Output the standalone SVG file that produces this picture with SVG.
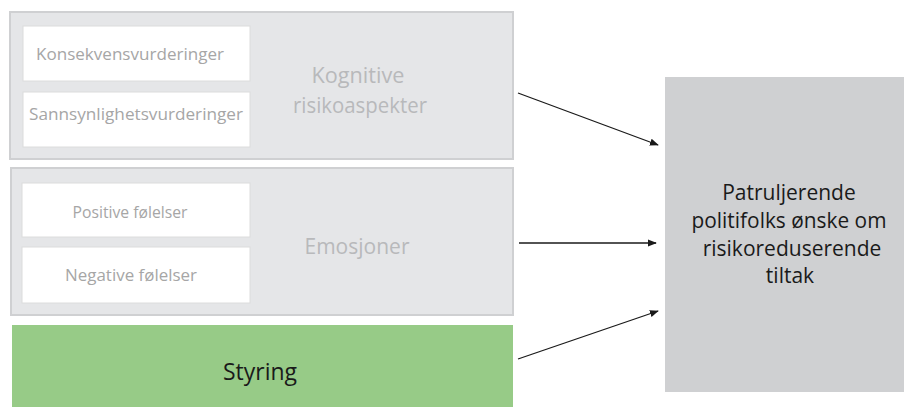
<svg xmlns="http://www.w3.org/2000/svg" width="904" height="407" viewBox="0 0 904 407">
<style>
.grp{fill:#e5e6e8;stroke:#cfd0d2;stroke-width:2}
.inner{fill:#ffffff;stroke:#dcdcdc;stroke-width:1}
.small{font-family:"Open Sans","Liberation Sans",sans-serif;font-size:16.5px;fill:#a6a6a6;text-anchor:middle}
.big{font-family:"Open Sans","Liberation Sans",sans-serif;font-size:21px;fill:#b8b9bb;text-anchor:middle}
.dark{font-family:"Open Sans","Liberation Sans",sans-serif;font-size:21px;fill:#1a1a1a;text-anchor:middle}
.conn{stroke:#1a1a1a;stroke-width:1.3;fill:none;marker-end:url(#ah)}
</style>
<defs>
<marker id="ah" viewBox="0 0 10 10" refX="9" refY="5" markerWidth="9" markerHeight="9" markerUnits="userSpaceOnUse" orient="auto">
<path d="M0,1 L10,5 L0,9 z" fill="#1a1a1a"/>
</marker>
</defs>
<rect width="904" height="407" fill="#ffffff"/>
<g id="kognitive">
<rect class="grp" x="10" y="12" width="503" height="147"/>
<rect class="inner" x="23" y="26" width="227" height="55"/>
<text class="small" x="130" y="60" textLength="188" lengthAdjust="spacingAndGlyphs">Konsekvensvurderinger</text>
<rect class="inner" x="23" y="92" width="227" height="55"/>
<text class="small" x="136" y="120" textLength="214" lengthAdjust="spacingAndGlyphs">Sannsynlighetsvurderinger</text>
<text class="big" x="358" y="83" textLength="93" lengthAdjust="spacingAndGlyphs">Kognitive</text>
<text class="big" x="360" y="113" textLength="134" lengthAdjust="spacingAndGlyphs">risikoaspekter</text>
</g>
<g id="emosjoner">
<rect class="grp" x="11" y="168" width="502" height="147"/>
<rect class="inner" x="22" y="183" width="228" height="54"/>
<text class="small" x="130" y="218" textLength="115" lengthAdjust="spacingAndGlyphs">Positive følelser</text>
<rect class="inner" x="22" y="247" width="228" height="56"/>
<text class="small" x="131" y="281" textLength="132" lengthAdjust="spacingAndGlyphs">Negative følelser</text>
<text class="big" x="357" y="254" textLength="105" lengthAdjust="spacingAndGlyphs">Emosjoner</text>
</g>
<g id="styring">
<rect x="12" y="325" width="501" height="90" fill="#97cb87"/>
<text class="dark" x="260" y="380" style="font-size:23px" textLength="74" lengthAdjust="spacingAndGlyphs">Styring</text>
</g>
<g id="patruljerende">
<rect x="665" y="77" width="245" height="315" fill="#cfd0d2"/>
<text class="dark" x="789" y="200">Patruljerende</text>
<text class="dark" x="789" y="228" textLength="195" lengthAdjust="spacingAndGlyphs">politifolks ønske om</text>
<text class="dark" x="792" y="256">risikoreduserende</text>
<text class="dark" x="790" y="283">tiltak</text>
</g>
<g id="connectors">
<line class="conn" x1="518" y1="93" x2="658" y2="145"/>
<line class="conn" x1="519" y1="243" x2="656" y2="243"/>
<line class="conn" x1="518" y1="359" x2="658" y2="311"/>
</g>
</svg>
